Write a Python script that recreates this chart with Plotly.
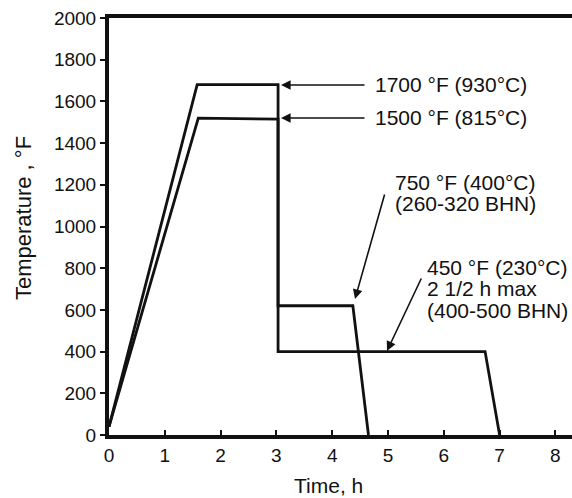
import plotly.graph_objects as go

# Quench/temper cycle A: 1700 F austenitize, quench to 450 F, hold, cool
time_a = [0.0, 1.58, 3.03, 3.03, 6.74, 7.0]
temp_a = [40, 1680, 1680, 400, 400, 0]
# Cycle B: 1500 F austenitize, quench to 620 F, hold, cool
time_b = [0.0, 1.60, 3.03, 3.03, 4.37, 4.65]
temp_b = [40, 1520, 1515, 620, 620, 0]

x_ticks = [0, 1, 2, 3, 4, 5, 6, 7, 8]
y_ticks = [0, 200, 400, 600, 800, 1000, 1200, 1400, 1600, 1800, 2000]

label_1700 = "1700 °F (930°C)"
label_1500 = "1500 °F (815°C)"
label_750 = ["750 °F (400°C)", "(260-320 BHN)"]
label_450 = ["450 °F (230°C)", "2 1/2 h max", "(400-500 BHN)"]

FONT = "Liberation Sans, Arial, Helvetica, sans-serif"
INK = "#111111"

px_per_x = 55.8
px_per_y = 0.2085
def dx(p):
    return (p - 109) / px_per_x
def dy(p):
    return (435 - p) / px_per_y

fig = go.Figure()
for t, v in [(time_a, temp_a), (time_b, temp_b)]:
    fig.add_trace(go.Scatter(x=t, y=v, mode="lines",
                             line=dict(color=INK, width=2.8),
                             showlegend=False, hoverinfo="skip"))

annotations = []
def text(x, y, s):
    annotations.append(dict(x=x, y=y, xref="x", yref="y", text=s, showarrow=False,
                            xanchor="left", yanchor="middle",
                            font=dict(family=FONT, size=21, color=INK)))
def arrow(x0, y0, x1, y1):
    annotations.append(dict(x=x1, y=y1, ax=x0, ay=y0, xref="x", yref="y",
                            axref="x", ayref="y", text="", showarrow=True,
                            arrowhead=2, arrowsize=1.2, arrowwidth=1.6,
                            arrowcolor=INK))

text(dx(373), dy(84), label_1700)
text(dx(373), dy(117), label_1500)
for i, s in enumerate(label_750):
    text(dx(393), dy(182 + 21.7 * i), s)
for i, s in enumerate(label_450):
    text(dx(425), dy(267 + 21.7 * i), s)

arrow(dx(366), dy(85), dx(281), dy(85))
arrow(dx(366), dy(118), dx(281), dy(118))
arrow(dx(385), dy(193), dx(355), dy(299))
arrow(dx(422), dy(277), dx(387), dy(351))

# axis titles placed as paper annotations
annotations.append(dict(x=328, y=486, xref="paper", yref="paper", text="Time, h",
                        showarrow=False, xanchor="center", yanchor="middle",
                        font=dict(family=FONT, size=21, color=INK)))
annotations.append(dict(x=23, y=218, xref="paper", yref="paper", text="Temperature , °F",
                        showarrow=False, xanchor="center", yanchor="middle",
                        textangle=-90, font=dict(family=FONT, size=22, color=INK)))
# convert paper pixel positions to paper fractions
for a in annotations[-2:]:
    a["x"] = (a["x"] - 109) / (572 - 109)
    a["y"] = (435 - a["y"]) / (435 - 18)

fig.update_layout(
    width=572, height=498,
    margin=dict(l=109, r=0, t=18, b=63),
    paper_bgcolor="white", plot_bgcolor="white",
    font=dict(family=FONT, size=19, color=INK),
    annotations=annotations,
    xaxis=dict(range=[0, (572 - 109) / px_per_x], tickvals=x_ticks,
               ticks="inside", ticklen=5, tickwidth=2, tickcolor=INK,
               showline=True, linewidth=4, linecolor=INK, mirror=True,
               showgrid=False, zeroline=False,
               tickfont=dict(size=19)),
    yaxis=dict(range=[0, 2000], tickvals=y_ticks,
               ticks="outside", ticklen=5, tickwidth=2, tickcolor=INK,
               showline=True, linewidth=4, linecolor=INK,
               showgrid=False, zeroline=False,
               tickfont=dict(size=19)),
)

fig.write_html("out.html")
